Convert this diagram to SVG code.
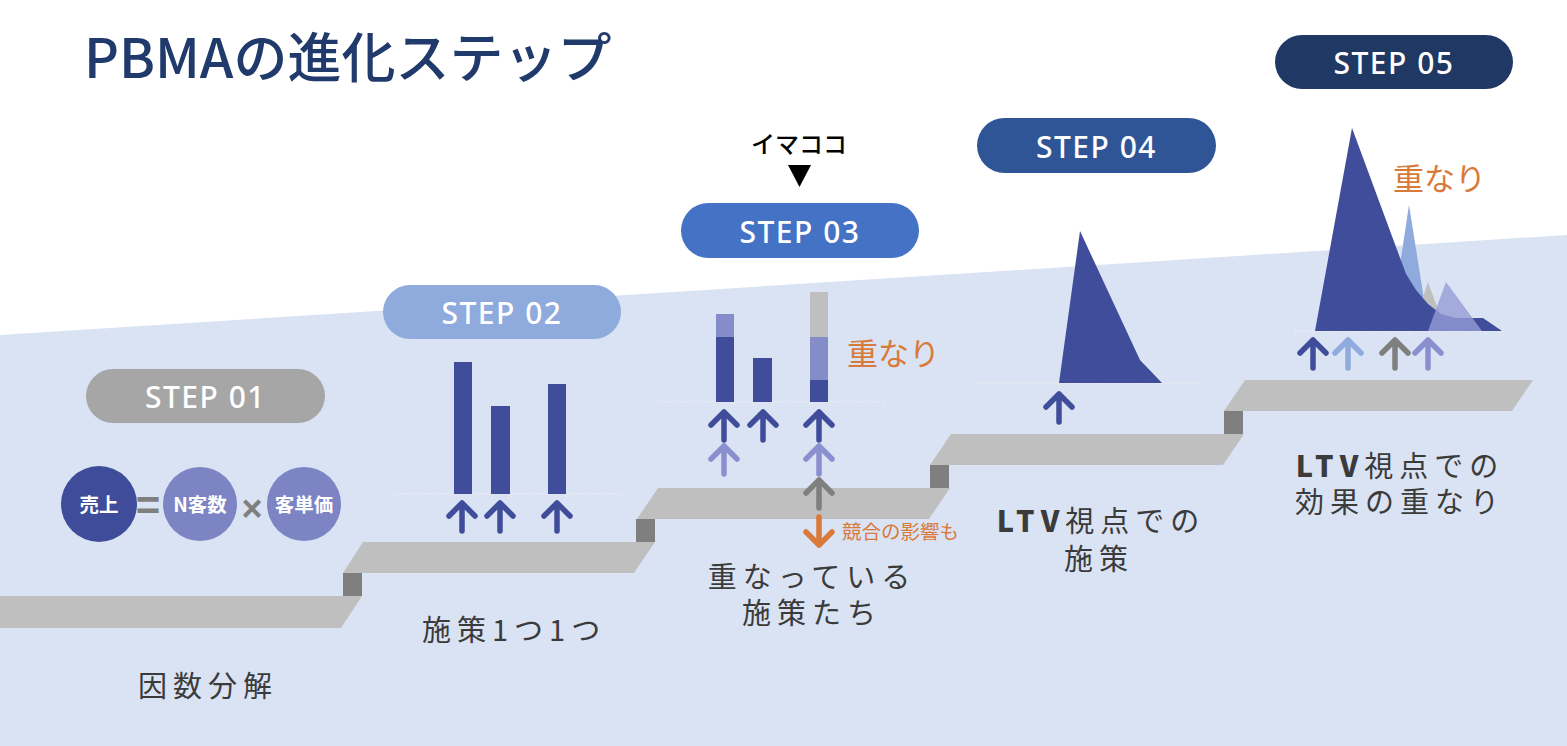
<svg xmlns="http://www.w3.org/2000/svg" xmlns:xlink="http://www.w3.org/1999/xlink" width="1567" height="746" viewBox="0 0 1567 746">
<style>
.jp{font-family:"Noto Sans CJK JP","Noto Sans",sans-serif}
.lbl{font-family:"Noto Sans CJK JP",sans-serif;font-size:29px;fill:#3b3b3b;letter-spacing:6px}
.pilltxt{font-family:"Noto Sans","Open Sans",sans-serif;font-size:30px;font-weight:500;fill:#ffffff;letter-spacing:1.5px;text-anchor:middle}
.stair{fill:#bfbfbf}
.riser{fill:#7f7f7f}
.dark{fill:#3f4d9a}
.lav{fill:#858cca}
.gray{fill:#bfbfbf}
.axis{stroke:#e6e9f0;stroke-width:1;fill:none}
.arr{fill:none;stroke-width:5.5;stroke-linecap:round;stroke-linejoin:round}
.ctxt{font-family:"Noto Sans CJK JP",sans-serif;font-size:19.5px;font-weight:700;fill:#ffffff;text-anchor:middle}
</style>
<defs>
<path id="up" d="M0,0 V28 M-13,13 L0,0 L13,13"/>
<path id="down" d="M0,0 V-28 M-13,-13 L0,0 L13,-13"/>
</defs>
<rect x="0" y="0" width="1567" height="746" fill="#ffffff"/>
<polygon points="0,335 1567,235 1567,746 0,746" fill="#dae3f3"/>

<g id="stairs">
<polygon class="stair" points="0,596 362,596 341,628 0,628"/>
<rect class="riser" x="343" y="573" width="19" height="23"/>
<polygon class="stair" points="363,542 655,542 634,573 343,573"/>
<rect class="riser" x="636" y="519" width="19" height="23"/>
<polygon class="stair" points="658,488 950,488 929,519 637,519"/>
<rect class="riser" x="930" y="465" width="19" height="23"/>
<polygon class="stair" points="951,434 1244,434 1223,465 930,465"/>
<rect class="riser" x="1224" y="411" width="19" height="23"/>
<polygon class="stair" points="1245,380 1533,380 1512,411 1224,411"/>
</g>

<g id="title">
<text class="jp" x="84" y="78" font-size="54" font-weight="500" fill="#213a6c">PBMAの進化ステップ</text>
</g>

<g id="step01">
<rect x="86" y="369" width="239" height="54" rx="27" fill="#a6a6a6"/>
<text class="pilltxt" x="205.5" y="408">STEP 01</text>
<circle cx="99" cy="504" r="38" fill="#3f4c99"/>
<text class="ctxt" x="99" y="512">売上</text>
<text x="148" y="520" font-family="Liberation Sans,sans-serif" font-size="42" font-weight="700" fill="#7f7f7f" text-anchor="middle">=</text>
<circle cx="200" cy="504" r="37" fill="#7c84c4"/>
<text class="ctxt" x="200" y="512">N客数</text>
<text x="252" y="521" font-family="Liberation Sans,sans-serif" font-size="36" font-weight="700" fill="#7f7f7f" text-anchor="middle">×</text>
<circle cx="304" cy="504" r="37" fill="#7c84c4"/>
<text class="ctxt" x="304" y="512">客単価</text>
<text class="lbl" x="138" y="697">因数分解</text>
</g>

<g id="step02">
<rect x="383" y="285" width="238" height="54" rx="27" fill="#8faadc"/>
<text class="pilltxt" x="502" y="324">STEP 02</text>
<path class="axis" d="M397,494 H623 M397,494v4 M416,494v4 M435,494v4 M454,494v4 M473,494v4 M492,494v4 M511,494v4 M530,494v4 M549,494v4 M568,494v4 M587,494v4 M606,494v4 M623,494v4"/>
<rect class="dark" x="454" y="362" width="18" height="132"/>
<rect class="dark" x="491" y="406" width="19" height="88"/>
<rect class="dark" x="548" y="384" width="18" height="110"/>
<text class="lbl" x="422" y="641">施策1つ1つ</text>
</g>

<g id="step03">
<text class="jp" x="799" y="153" font-size="24" font-weight="500" fill="#000000" text-anchor="middle">イマココ</text>
<polygon points="788,165 811,165 799.5,187" fill="#000000"/>
<rect x="681" y="203" width="238" height="55" rx="27.5" fill="#4472c4"/>
<text class="pilltxt" x="800" y="243">STEP 03</text>
<path class="axis" d="M658,402 H885 M658,402v4 M677,402v4 M696,402v4 M715,402v4 M734,402v4 M753,402v4 M772,402v4 M791,402v4 M810,402v4 M829,402v4 M848,402v4 M867,402v4 M885,402v4"/>
<rect class="lav" x="716" y="314" width="18" height="23"/>
<rect class="dark" x="716" y="337" width="18" height="65"/>
<rect class="dark" x="753" y="358" width="19" height="44"/>
<rect class="gray" x="810" y="292" width="18" height="45"/>
<rect class="lav" x="810" y="337" width="18" height="43"/>
<rect class="dark" x="810" y="380" width="18" height="22"/>
<text class="jp" x="847" y="365" font-size="31" fill="#d97a3a">重なり</text>
<text class="jp" x="842" y="539" font-size="19.5" fill="#d97a3a">競合の影響も</text>
<text class="lbl" x="812" y="588" text-anchor="middle">重なっている</text>
<text class="lbl" x="812" y="624" text-anchor="middle">施策たち</text>
</g>

<g id="step04">
<rect x="977" y="118" width="239" height="55" rx="27.5" fill="#2f5597"/>
<text class="pilltxt" x="1096.5" y="158">STEP 04</text>
<path class="axis" d="M977,383 H1202 M977,383v4 M997,383v4 M1018,383v4 M1038,383v4 M1059,383v4 M1079,383v4 M1100,383v4 M1120,383v4 M1141,383v4 M1161,383v4 M1182,383v4 M1202,383v4"/>
<polygon class="dark" points="1059,383 1080,231 1140,360 1162,383"/>
<text class="lbl" x="1101" y="532" text-anchor="middle"><tspan font-weight="900">LTV</tspan>視点での</text>
<text class="lbl" x="1099" y="570" text-anchor="middle">施策</text>
</g>

<g id="step05">
<rect x="1275" y="35" width="238" height="54" rx="27" fill="#203864"/>
<text class="pilltxt" x="1394" y="74">STEP 05</text>
<path class="axis" d="M1295,331 H1502 M1295,331v4 M1314,331v4 M1333,331v4 M1352,331v4 M1371,331v4 M1390,331v4 M1409,331v4 M1428,331v4 M1447,331v4 M1466,331v4 M1485,331v4 M1502,331v4"/>
<polygon points="1390,331 1409,205 1429,331" fill="#8faadc"/>
<polygon points="1412,331 1428,282 1446,331" fill="#bfbfbf"/>
<polygon class="dark" points="1315,331 1352,128 1406,274 1416,290 1428,304 1441,314 1455,318 1483,318 1502,331"/>
<polygon points="1428,331 1446,282 1482,331" fill="#959bd6" fill-opacity="0.8"/>
<text class="jp" x="1393" y="190" font-size="31" fill="#d97a3a">重なり</text>
<text class="lbl" x="1400" y="477" text-anchor="middle"><tspan font-weight="900">LTV</tspan>視点での</text>
<text class="lbl" x="1400" y="513" text-anchor="middle">効果の重なり</text>
</g>

<g id="connectors">
<use xlink:href="#up" class="arr" stroke="#3f4d9a" x="462" y="503"/>
<use xlink:href="#up" class="arr" stroke="#3f4d9a" x="500" y="503"/>
<use xlink:href="#up" class="arr" stroke="#3f4d9a" x="557" y="503"/>
<use xlink:href="#up" class="arr" stroke="#3f4d9a" x="724" y="412"/>
<use xlink:href="#up" class="arr" stroke="#3f4d9a" x="763" y="412"/>
<use xlink:href="#up" class="arr" stroke="#3f4d9a" x="819" y="412"/>
<use xlink:href="#up" class="arr" stroke="#8a90cf" x="724" y="446"/>
<use xlink:href="#up" class="arr" stroke="#8a90cf" x="819" y="446"/>
<use xlink:href="#up" class="arr" stroke="#7f7f7f" x="819" y="480"/>
<use xlink:href="#down" class="arr" stroke="#d97a3a" x="819" y="545"/>
<use xlink:href="#up" class="arr" stroke="#3f4d9a" x="1059" y="394"/>
<use xlink:href="#up" class="arr" stroke="#3f4d9a" x="1313" y="340"/>
<use xlink:href="#up" class="arr" stroke="#8faadc" x="1348" y="340"/>
<use xlink:href="#up" class="arr" stroke="#7f7f7f" x="1395" y="340"/>
<use xlink:href="#up" class="arr" stroke="#8a90cf" x="1428" y="340"/>
</g>
</svg>
